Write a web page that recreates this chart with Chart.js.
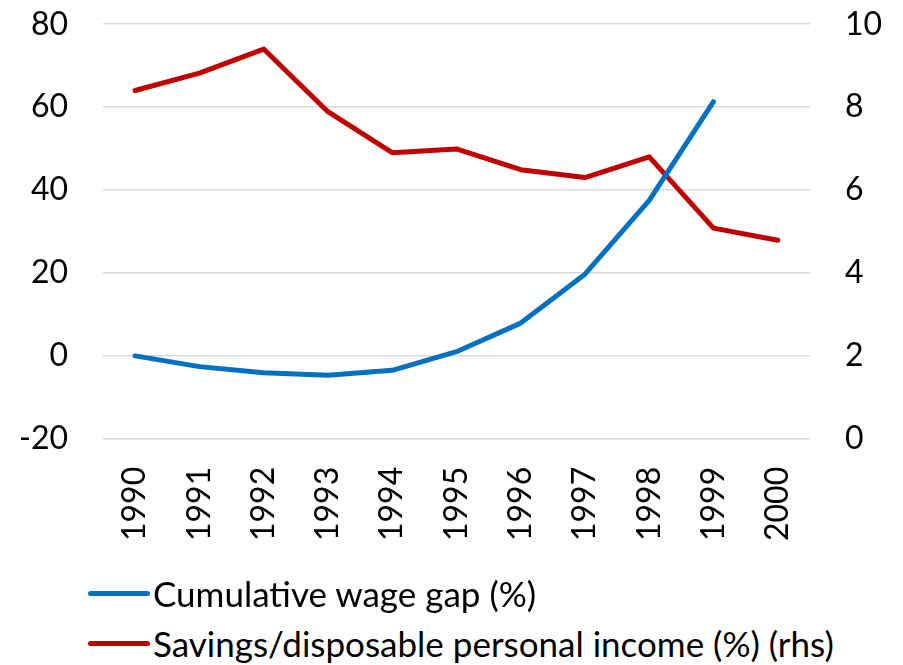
<!DOCTYPE html>
<html>
<head>
<meta charset="utf-8">
<script src="https://cdn.jsdelivr.net/npm/chart.js@4"></script>
<style>
  html, body { margin: 0; padding: 0; background: #fff; overflow: hidden; }
  #wrap { position: relative; width: 903px; height: 665px; overflow: hidden; font-family: Lato, "Open Sans", sans-serif; }
  #chart-box { position: absolute; left: -32px; top: -30px; width: 969px; height: 611px; }
  .legend-row { position: absolute; left: 88px; display: flex; align-items: center; font-size: 35px; color: #000; white-space: nowrap; }
  .legend-line { width: 62px; height: 5px; border-radius: 3px; margin-right: 3px; }
</style>
</head>
<body>
<div id="wrap">
  <div id="chart-box"><canvas id="chart"></canvas></div>
  <div class="legend-row" style="top: 572px;"><span class="legend-line" style="background:#0070C0"></span>Cumulative wage gap (%)</div>
  <div class="legend-row" style="top: 622px;"><span class="legend-line" style="background:#C00000"></span>Savings/disposable personal income (%) (rhs)</div>
</div>
<script>
// data
const years = ["1990", "1991", "1992", "1993", "1994", "1995", "1996", "1997", "1998", "1999", "2000"];
const wageGap = [0, -2.6, -4.1, -4.7, -3.5, 1.0, 7.9, 19.7, 37.5, 61.3, null];
const savingsRate = [8.4, 8.82, 9.4, 7.89, 6.9, 6.99, 6.49, 6.3, 6.8, 5.08, 4.79];
const leftTicks = [-20, 0, 20, 40, 60, 80];
const rightTicks = [0, 2, 4, 6, 8, 10];

const tickFont = { family: "Lato, 'Open Sans', sans-serif", size: 32 };

new Chart(document.getElementById("chart"), {
  type: "line",
  data: {
    labels: years,
    datasets: [
      {
        label: "Cumulative wage gap (%)",
        data: wageGap,
        borderColor: "#0070C0",
        borderWidth: 5,
        pointRadius: 0,
        tension: 0,
        borderCapStyle: "round",
        borderJoinStyle: "round",
        yAxisID: "y",
        order: 1,
      },
      {
        label: "Savings/disposable personal income (%) (rhs)",
        data: savingsRate,
        borderColor: "#C00000",
        borderWidth: 5,
        pointRadius: 0,
        tension: 0,
        borderCapStyle: "round",
        borderJoinStyle: "round",
        yAxisID: "y1",
        order: 2,
      },
    ],
  },
  options: {
    responsive: true,
    maintainAspectRatio: false,
    animation: false,
    layout: { padding: { left: 16, right: 20, top: 0, bottom: 20 } },
    plugins: {
      legend: { display: false },
      tooltip: { enabled: false },
    },
    scales: {
      x: {
        offset: true,
        grid: { display: false },
        border: { display: false },
        ticks: {
          color: "#000",
          font: tickFont,
          minRotation: 90,
          maxRotation: 90,
          padding: 20,
        },
      },
      y: {
        position: "left",
        min: leftTicks[0],
        max: leftTicks[leftTicks.length - 1],
        afterBuildTicks: (axis) => { axis.ticks = leftTicks.map((v) => ({ value: v })); },
        grid: { color: "#d9d9d9", lineWidth: 1.5, drawTicks: false },
        border: { display: false },
        ticks: { color: "#000", font: tickFont, padding: 35 },
      },
      y1: {
        position: "right",
        min: rightTicks[0],
        max: rightTicks[rightTicks.length - 1],
        afterBuildTicks: (axis) => { axis.ticks = rightTicks.map((v) => ({ value: v })); },
        grid: { display: false, drawTicks: false },
        border: { display: false },
        ticks: { color: "#000", font: tickFont, padding: 35 },
      },
    },
  },
});
</script>
</body>
</html>
